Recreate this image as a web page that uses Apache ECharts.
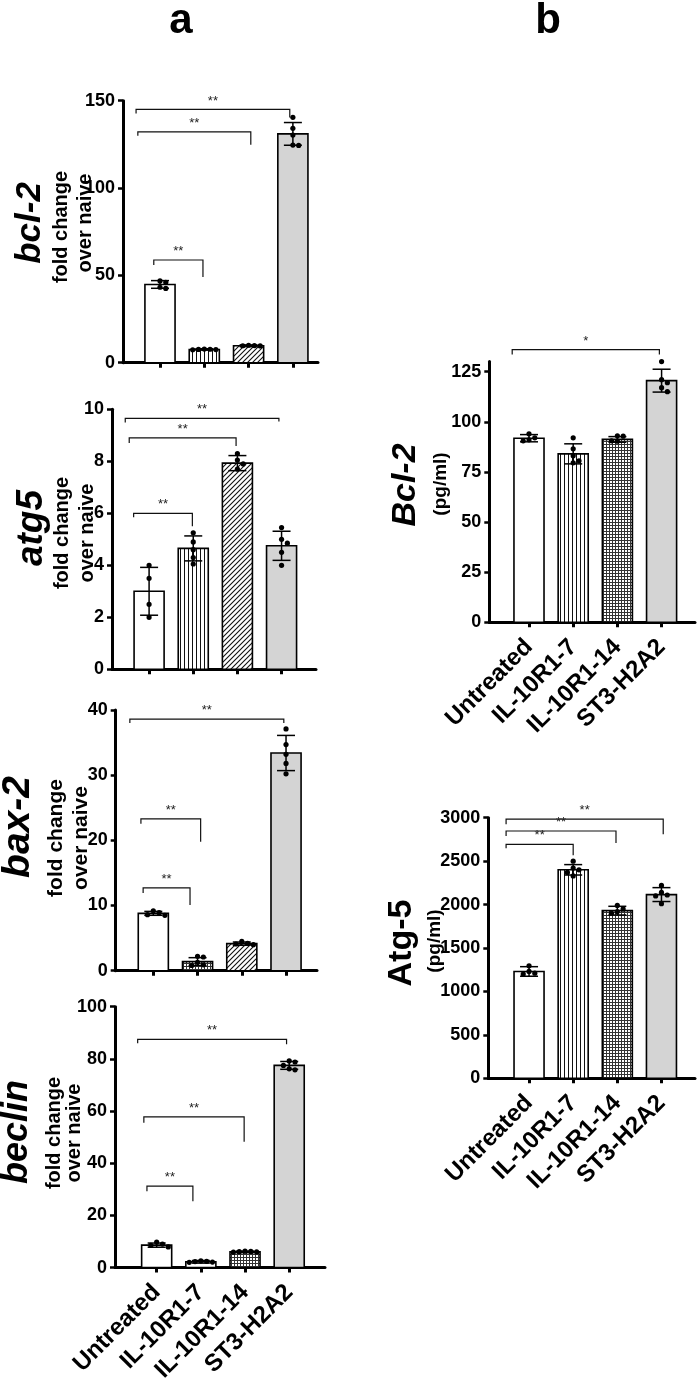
<!DOCTYPE html>
<html><head><meta charset="utf-8">
<script src="https://cdn.jsdelivr.net/npm/echarts@6/dist/echarts.min.js"></script>
<style>html,body{margin:0;padding:0;background:#fff}#c{width:700px;height:1385px}</style>
</head><body><div id="c"></div>
<script>
// ---------- DATA ----------
const categories = ['Untreated', 'IL-10R1-7', 'IL-10R1-14', 'ST3-H2A2'];

// a: bcl-2 fold change
const bcl2Mean = [44.8, 7.6, 9.7, 131];
const bcl2Sd = [2.2, 0.4, 0.5, 6.5];
const bcl2Dots = [[46.8, 46.0, 43.2, 42.5], [7.8, 7.6, 7.5, 7.7, 7.4], [10.0, 9.7, 9.6, 9.8], [140.5, 134.2, 130.3, 124.4, 124.6]];
const bcl2Ticks = [0, 50, 100, 150];

// a: atg5 fold change
const atg5Mean = [3.0, 4.65, 7.93, 4.75];
const atg5Sd = [0.92, 0.48, 0.29, 0.56];
const atg5Dots = [[4.0, 3.5, 2.5, 2.0], [5.25, 4.9, 4.6, 4.3, 4.05], [8.3, 8.05, 7.9, 7.7], [5.45, 5.0, 4.85, 4.5, 4.0]];
const atg5Ticks = [0, 2, 4, 6, 8, 10];

// a: bax-2 fold change
const bax2Mean = [8.8, 1.4, 4.15, 33.4];
const bax2Sd = [0.3, 0.6, 0.25, 2.7];
const bax2Dots = [[9.2, 8.9, 8.6, 8.5], [2.2, 2.1, 1.3, 0.9, 0.8], [4.5, 4.2, 4.1, 4.0], [37.1, 34.7, 33.2, 31.8, 30.2]];
const bax2Ticks = [0, 10, 20, 30, 40];

// a: beclin fold change
const beclinMean = [8.6, 2.2, 6.0, 77.5];
const beclinSd = [0.8, 0.5, 0.3, 1.5];
const beclinDots = [[9.8, 9.0, 8.5, 7.9], [2.6, 2.3, 2.1, 2.0, 2.4], [6.3, 6.0, 5.9, 6.1, 6.2], [79.2, 78.8, 77.5, 76.2, 75.8]];
const beclinTicks = [0, 20, 40, 60, 80, 100];

// b: Bcl-2 pg/ml
const bcl2ProtMean = [91.8, 84.0, 91.2, 120.5];
const bcl2ProtSd = [1.8, 5.0, 1.4, 5.7];
const bcl2ProtDots = [[94, 92, 91, 90.5], [92, 86.5, 83, 80.5, 79.5], [93, 92.8, 90.5, 90.3], [130, 121, 119.5, 117, 115]];
const bcl2ProtTicks = [0, 25, 50, 75, 100, 125];

// b: Atg-5 pg/ml
const atg5ProtMean = [1230, 2400, 1930, 2115];
const atg5ProtSd = [55, 60, 50, 80];
const atg5ProtDots = [[1295, 1230, 1210, 1200], [2500, 2420, 2400, 2370, 2330], [1990, 1950, 1920, 1900], [2220, 2140, 2110, 2100, 2010]];
const atg5ProtTicks = [0, 500, 1000, 1500, 2000, 2500, 3000];

// significance brackets: [fromCat, toCat, yValue, leftDropPx, rightDropPx, label]
const bcl2Brackets = [[-0.54, 2.93, 145, 4, 8, '**'], [-0.5, 2.05, 132.2, 4, 13, '**'], [-0.14, 0.97, 58.8, 5, 17, '**']];
const atg5Brackets = [[-0.54, 2.94, 9.65, 4, 3, '**'], [-0.45, 1.97, 8.9, 5, 8, '**'], [-0.35, 0.98, 6.0, 4, 13, '**']];
const bax2Brackets = [[-0.53, 2.95, 38.6, 4, 4, '**'], [-0.28, 1.07, 23.3, 5, 23, '**'], [-0.23, 0.83, 12.7, 5, 17, '**']];
const beclinBrackets = [[-0.43, 2.94, 87.5, 4, 5, '**'], [-0.29, 1.98, 57.8, 6, 25, '**'], [-0.22, 0.82, 31.2, 5, 15, '**']];
const bcl2ProtBrackets = [[-0.38, 2.95, 136, 5, 5, '*']];
const atg5ProtBrackets = [[-0.52, 3.04, 2983, 5, 15, '**'], [-0.52, 1.97, 2847, 5, 12, '**'], [-0.52, 1.0, 2693, 4, 11, '**']];

// ---------- PATTERNS ----------
function mkCanvas(w, h, draw) {
  const c = document.createElement('canvas'); c.width = w; c.height = h;
  const g = c.getContext('2d'); g.fillStyle = '#fff'; g.fillRect(0, 0, w, h); draw(g); return c;
}
const patV = mkCanvas(4, 4, g => { g.fillStyle = '#111'; g.fillRect(0, 0, 1, 4); });
const patD = mkCanvas(5, 5, g => {
  g.strokeStyle = '#111'; g.lineWidth = 1.1;
  g.beginPath(); g.moveTo(-1, 6); g.lineTo(6, -1); g.moveTo(-1, 1); g.lineTo(1, -1); g.moveTo(4, 6); g.lineTo(6, 4); g.stroke();
});
const patG = mkCanvas(3, 3, g => { g.fillStyle = '#333'; g.fillRect(0, 0, 3, 1); g.fillRect(0, 0, 1, 3); });
const FILLS = {
  white: '#ffffff', gray: '#d4d4d4',
  vstripe: { image: patV, repeat: 'repeat' },
  diag: { image: patD, repeat: 'repeat' },
  grid: { image: patG, repeat: 'repeat' }
};

const FONT = '"Liberation Sans", Arial, Helvetica, sans-serif';

// ---------- PANELS ----------
const panels = [
  { mean: bcl2Mean, sd: bcl2Sd, dots: bcl2Dots, ticks: bcl2Ticks, br: bcl2Brackets, fills: ['white', 'vstripe', 'diag', 'gray'],
    grid: { left: 123, top: 100.7, width: 195, height: 262 }, xr: [-0.835, 3.567], labels: false },
  { mean: atg5Mean, sd: atg5Sd, dots: atg5Dots, ticks: atg5Ticks, br: atg5Brackets, fills: ['white', 'vstripe', 'diag', 'gray'],
    grid: { left: 112, top: 409.3, width: 204, height: 260 }, xr: [-0.84, 3.78], labels: false },
  { mean: bax2Mean, sd: bax2Sd, dots: bax2Dots, ticks: bax2Ticks, br: bax2Brackets, fills: ['white', 'grid', 'diag', 'gray'],
    grid: { left: 115.7, top: 710, width: 201.3, height: 260.7 }, xr: [-0.85, 3.70], labels: false },
  { mean: beclinMean, sd: beclinSd, dots: beclinDots, ticks: beclinTicks, br: beclinBrackets, fills: ['white', 'white', 'grid', 'gray'],
    grid: { left: 115, top: 1006.7, width: 210, height: 261.6 }, xr: [-0.943, 3.81], labels: true },
  { mean: bcl2ProtMean, sd: bcl2ProtSd, dots: bcl2ProtDots, ticks: bcl2ProtTicks, br: bcl2ProtBrackets, fills: ['white', 'vstripe', 'grid', 'gray'],
    grid: { left: 489.3, top: 361.6, width: 205.7, height: 260.7 }, xr: [-0.898, 3.756], labels: true, ymax: 130 },
  { mean: atg5ProtMean, sd: atg5ProtSd, dots: atg5ProtDots, ticks: atg5ProtTicks, br: atg5ProtBrackets, fills: ['white', 'vstripe', 'grid', 'gray'],
    grid: { left: 488.3, top: 817.7, width: 206.7, height: 260.6 }, xr: [-0.923, 3.76], labels: true }
];

function swarm(py, r) {
  const order = py.map((y, k) => k).sort((a, b) => py[a] - py[b]);
  const placed = []; const xs = new Array(py.length).fill(0);
  order.forEach(k => {
    for (let step = 0; step < 20; step++) {
      const off = step === 0 ? 0 : (step % 2 ? 1 : -1) * Math.ceil(step / 2) * (2 * r + 0.6);
      const hit = placed.some(p => (p[0] - off) ** 2 + (p[1] - py[k]) ** 2 < (2 * r) ** 2);
      if (!hit) { xs[k] = off; placed.push([off, py[k]]); break; }
    }
  });
  return xs;
}

const grids = [], xAxes = [], yAxes = [], series = [];
panels.forEach((p, gi) => {
  grids.push(Object.assign({ containLabel: false }, p.grid));
  const cats = [0, 1, 2, 3];
  xAxes.push({
    type: 'value', gridIndex: gi, min: p.xr[0], max: p.xr[1],
    splitLine: { show: false },
    axisLine: { show: true, onZero: false, lineStyle: { color: '#000', width: 3 } },
    axisTick: { show: true, customValues: cats, length: 5, lineStyle: { color: '#000', width: 3 } },
    axisLabel: p.labels ? {
      show: true, customValues: cats, rotate: 45, margin: 21, color: '#000', fontSize: 24, fontWeight: 'bold', fontFamily: FONT,
      formatter: v => categories[Math.round(v)]
    } : { show: false }
  });
  const ymax = p.ymax || p.ticks[p.ticks.length - 1];
  yAxes.push({
    type: 'value', gridIndex: gi, min: 0, max: ymax,
    splitLine: { show: false },
    axisLine: { show: true, onZero: false, lineStyle: { color: '#000', width: 3 } },
    axisTick: { show: true, customValues: p.ticks, length: 5, lineStyle: { color: '#000', width: 2.5 } },
    axisLabel: { show: true, customValues: p.ticks, margin: 8, color: '#000', fontSize: 18, fontWeight: 'bold', fontFamily: FONT,
      formatter: v => String(v) }
  });
  series.push({
    type: 'custom', coordinateSystem: 'cartesian2d', xAxisIndex: gi, yAxisIndex: gi, clip: false, z: 3,
    data: p.mean.map((m, i) => [i, m, p.sd[i]]),
    renderItem: (params, api) => {
      const i = api.value(0), m = api.value(1), s = api.value(2);
      const base = api.coord([i, 0]), top = api.coord([i, m]);
      const bw = api.size([0.68, 0])[0];
      const ch = [];
      ch.push({ type: 'rect', shape: { x: base[0] - bw / 2, y: top[1], width: bw, height: base[1] - top[1] },
        style: { fill: FILLS[p.fills[i]], stroke: '#000', lineWidth: 1.6 } });
      const hi = api.coord([i, m + s]), lo = api.coord([i, m - s]);
      const cw = 9;
      ch.push({ type: 'line', shape: { x1: hi[0], y1: hi[1], x2: lo[0], y2: lo[1] }, style: { stroke: '#000', lineWidth: 1.5 } });
      ch.push({ type: 'line', shape: { x1: hi[0] - cw, y1: hi[1], x2: hi[0] + cw, y2: hi[1] }, style: { stroke: '#000', lineWidth: 1.5 } });
      ch.push({ type: 'line', shape: { x1: lo[0] - cw, y1: lo[1], x2: lo[0] + cw, y2: lo[1] }, style: { stroke: '#000', lineWidth: 1.5 } });
      const d = p.dots[params.dataIndex];
      const py = d.map(v => api.coord([i, v])[1]);
      const xs = swarm(py, 2.6);
      d.forEach((v, k) => {
        ch.push({ type: 'circle', shape: { cx: base[0] + xs[k], cy: py[k], r: 2.6 }, style: { fill: '#000' } });
      });
      return { type: 'group', children: ch };
    }
  });
  series.push({
    type: 'custom', coordinateSystem: 'cartesian2d', xAxisIndex: gi, yAxisIndex: gi, clip: false, z: 4,
    data: p.br.map(b => [b[0], b[2]]),
    renderItem: (params, api) => {
      const b = p.br[params.dataIndex];
      const a = api.coord([b[0], b[2]]), e = api.coord([b[1], b[2]]);
      return { type: 'group', children: [
        { type: 'polyline', shape: { points: [[a[0], a[1] + b[3]], [a[0], a[1]], [e[0], e[1]], [e[0], e[1] + b[4]]] },
          style: { stroke: '#111', lineWidth: 1.2, fill: null } },
        { type: 'text', style: { x: (a[0] + e[0]) / 2, y: a[1] - 2, text: b[5], align: 'center', verticalAlign: 'bottom',
          font: '13px ' + FONT, fill: '#222' } }
      ] };
    }
  });
});

// axis titles (rotated) and panel letters
function vt(text, x, y, font) {
  return { type: 'text', x: x, y: y, rotation: Math.PI / 2,
    style: { text: text, font: font, fill: '#000', textAlign: 'center', textVerticalAlign: 'middle' } };
}
const graphics = [
  { type: 'text', x: 181, y: 21, style: { text: 'a', font: 'bold 42px ' + FONT, fill: '#000', textAlign: 'center', textVerticalAlign: 'middle' } },
  { type: 'text', x: 548, y: 21, style: { text: 'b', font: 'bold 42px ' + FONT, fill: '#000', textAlign: 'center', textVerticalAlign: 'middle' } },
  vt('bcl-2', 30, 223, 'italic bold 35px ' + FONT),
  vt('fold change', 61, 227, 'bold 20px ' + FONT),
  vt('over naive', 85, 223, 'bold 20px ' + FONT),
  vt('atg5', 32, 528, 'italic bold 37px ' + FONT),
  vt('fold change', 62, 533, 'bold 20px ' + FONT),
  vt('over naive', 87, 533, 'bold 20px ' + FONT),
  vt('bax-2', 18, 827, 'italic bold 39px ' + FONT),
  vt('fold change', 56, 838, 'bold 21px ' + FONT),
  vt('over naive', 81, 838, 'bold 21px ' + FONT),
  vt('beclin', 17, 1132, 'italic bold 36px ' + FONT),
  vt('fold change', 54, 1133, 'bold 20px ' + FONT),
  vt('over naive', 74, 1133, 'bold 20px ' + FONT),
  vt('Bcl-2', 406, 485, 'italic bold 34px ' + FONT),
  vt('(pg/ml)', 441, 484, 'bold 19px ' + FONT),
  vt('Atg-5', 402, 943, 'bold 34px ' + FONT),
  vt('(pg/ml)', 435, 941, 'bold 19px ' + FONT)
];

const chart = echarts.init(document.getElementById('c'), null, { renderer: 'canvas' });
chart.setOption({
  backgroundColor: '#fff', animation: false,
  grid: grids, xAxis: xAxes, yAxis: yAxes, series: series, graphic: graphics
});
</script></body></html>
